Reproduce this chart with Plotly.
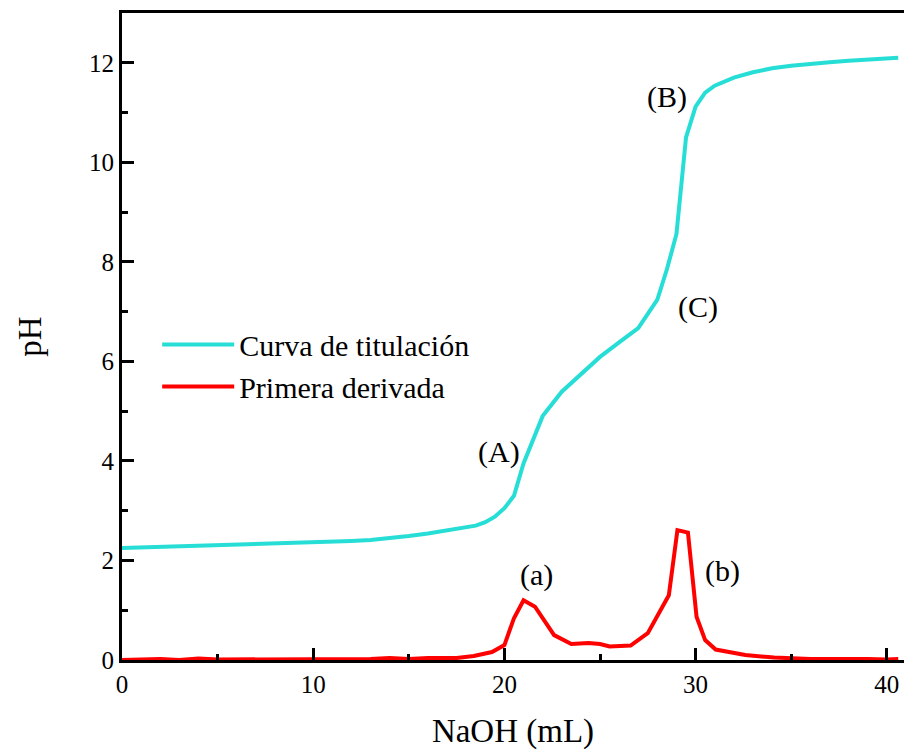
import plotly.graph_objects as go

# Titration curve (NaOH mL vs pH)
x_tit = [0, 1, 2, 3, 4, 5, 6, 7, 8, 9, 10, 11, 12, 13, 14, 15, 16, 17, 18, 18.5, 19, 19.5, 20, 20.5,
         21, 21.5, 22, 23, 24, 25, 26, 27, 28, 28.5, 29, 29.5, 30, 30.5, 31, 31.5, 32, 33, 34, 35,
         36, 37, 38, 39, 40, 40.6]
y_tit = [2.25, 2.26, 2.27, 2.28, 2.29, 2.32, 2.33, 2.34, 2.35, 2.36, 2.37, 2.38, 2.39, 2.41, 2.44, 2.49,
         2.54, 2.6, 2.65, 2.7, 2.77, 2.88, 3.05, 3.3, 3.95, 4.45, 4.9, 5.39, 5.75, 6.09, 6.38, 6.67,
         7.24, 7.85, 8.56, 10.5, 11.12, 11.4, 11.54, 11.63, 11.7, 11.81, 11.89, 11.94, 11.98, 12.01,
         12.04, 12.07, 12.09, 12.1]

# First derivative
x_der = [0, 1, 2, 3, 4, 5, 6, 7, 8, 9, 10, 11, 12, 13, 14, 15, 16, 17, 17.5, 18.4, 19.35, 20, 20.5,
         21, 21.6, 22.6, 23.5, 24.4, 25, 25.5, 26.6, 27.5, 28.6, 29.05, 29.6, 30.05, 30.5, 31.05,
         32.6, 34.1, 35, 36, 37, 38, 39, 40, 40.6]
y_der = [0.0, 0.01, 0.02, 0.0, 0.03, 0.01, 0.01, 0.02, 0.01, 0.01, 0.01, 0.01, 0.01, 0.02, 0.04, 0.02,
         0.04, 0.04, 0.04, 0.08, 0.16, 0.3, 0.84, 1.2, 1.07, 0.5, 0.32, 0.34, 0.32, 0.27, 0.29, 0.54,
         1.3, 2.61, 2.56, 0.87, 0.4, 0.21, 0.1, 0.05, 0.03, 0.02, 0.02, 0.03, 0.02, 0.01, 0.02]

# Point labels
lab_text = ["(A)", "(B)", "(C)", "(a)", "(b)"]
lab_x = [19.7, 28.5, 30.1, 21.7, 31.4]
lab_y = [4.18, 11.32, 7.1, 1.71, 1.79]

FONT = "Liberation Serif"

fig = go.Figure()
fig.add_trace(go.Scatter(x=x_tit, y=y_tit, mode="lines", name="Curva de titulación",
                         line=dict(color="rgb(38,222,214)", width=4)))
fig.add_trace(go.Scatter(x=x_der, y=y_der, mode="lines", name="Primera derivada",
                         line=dict(color="rgb(255,0,0)", width=4)))

for t, xx, yy in zip(lab_text, lab_x, lab_y):
    fig.add_annotation(x=xx, y=yy, text=t, showarrow=False,
                       font=dict(family=FONT, size=30, color="black"))

fig.update_layout(
    width=904, height=750,
    margin=dict(l=122, r=0, t=13, b=90),
    paper_bgcolor="white", plot_bgcolor="white",
    font=dict(family=FONT, color="black"),
    showlegend=True,
    legend=dict(x=0.045, y=0.455, xanchor="left", yanchor="middle",
                font=dict(family=FONT, size=30), itemwidth=72,
                bgcolor="rgba(0,0,0,0)", tracegroupgap=0),
)
fig.update_xaxes(
    range=[0, 40.9], showgrid=False, zeroline=False,
    showline=True, linecolor="black", linewidth=3, mirror=True,
    ticks="inside", ticklen=12, tickwidth=2.5, tickcolor="black",
    tickvals=[0, 10, 20, 30, 40],
    minor=dict(ticks="inside", ticklen=6, tickwidth=2.5, tickcolor="black", tickvals=[5, 15, 25, 35]),
    tickfont=dict(family=FONT, size=25),
    title=dict(text="NaOH (mL)", font=dict(family=FONT, size=33), standoff=26),
)
fig.update_yaxes(
    range=[0, 13], showgrid=False, zeroline=False,
    showline=True, linecolor="black", linewidth=3, mirror=False,
    ticks="inside", ticklen=12, tickwidth=2.5, tickcolor="black",
    tickvals=[0, 2, 4, 6, 8, 10, 12],
    minor=dict(ticks="inside", ticklen=6, tickwidth=2.5, tickcolor="black", tickvals=[1, 3, 5, 7, 9, 11]),
    tickfont=dict(family=FONT, size=25),
    title=dict(text="pH", font=dict(family=FONT, size=33), standoff=38),
)

fig.write_html("out.html")
